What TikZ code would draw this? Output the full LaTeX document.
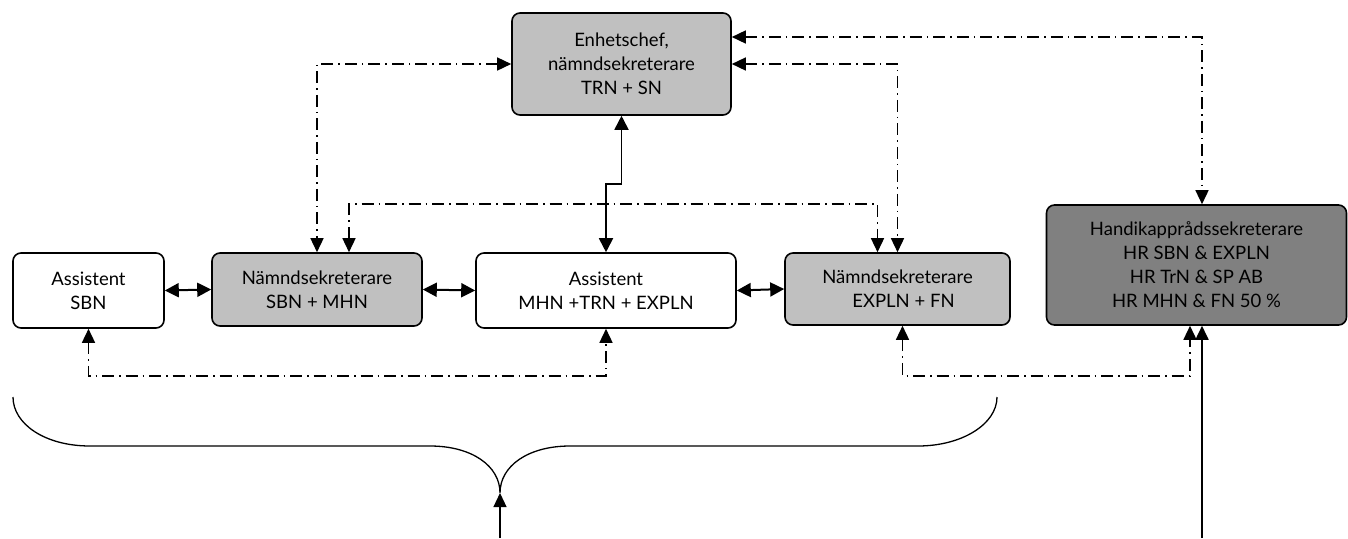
\documentclass[tikz,border=0pt]{standalone}
\usepackage{fontspec}
\setmainfont{Lato}
\usetikzlibrary{arrows.meta}
\definecolor{lightbox}{HTML}{C0C0C0}
\definecolor{darkbox}{HTML}{808080}
\tikzset{
  box/.style={draw=black, line width=1.6pt, rounded corners=8pt, align=center,
    font=\fontsize{18.5}{24}\selectfont, inner sep=0pt},
  tip/.style={-{Triangle[length=14pt,width=13pt]}},
  biarrow/.style={{Triangle[length=14pt,width=14pt]}-{Triangle[length=14pt,width=14pt]}, line width=2pt},
  dd/.style={{Triangle[length=14pt,width=13pt]}-{Triangle[length=14pt,width=13pt]}, line width=1.5pt,
    dash pattern=on 12pt off 5pt on 1.5pt off 5pt},
  solidline/.style={line width=1.8pt},
}
\begin{document}
\begin{tikzpicture}[x=1pt,y=-1pt]
\useasboundingbox (0,0) rectangle (1348,538);
\node[box, fill=lightbox, minimum width=219pt, minimum height=102pt] (E) at (621.5,64) {Enhetschef,\\nämndsekreterare\\TRN + SN};
\node[box, fill=white, minimum width=151pt, minimum height=75pt] (A1) at (88.5,290.5) {Assistent\\SBN};
\node[box, fill=lightbox, minimum width=210pt, minimum height=73pt] (N1) at (317,289.5) {Nämndsekreterare\\SBN + MHN};
\node[box, fill=white, minimum width=260pt, minimum height=75pt] (A2) at (606,290.5) {Assistent\\MHN +TRN + EXPLN};
\node[box, fill=lightbox, minimum width=225pt, minimum height=72pt] (N2) at (897.5,289) {Nämndsekreterare\\\hspace*{12pt}EXPLN + FN};
\node[box, fill=darkbox, minimum width=300pt, minimum height=120pt] (H) at (1196.5,265) {Handikapprådssekreterare\\HR SBN \& EXPLN\\HR TrN \& SP AB\\HR MHN \& FN 50 \%};

% solid links
\draw[biarrow] (A1.east) -- (N1.west);
\draw[biarrow] (N1.east) -- (A2.west);
\draw[biarrow] (A2.east) -- (N2.west);
\draw[biarrow, line width=1.8pt] (E.south) -- ++(0,68) -| (A2.north);

% dash-dot links
\draw[dd] (E.west) -| (N1.north);
\draw[dd] ([xshift=32pt]N1.north) -- ++(0,-48) -| ([xshift=-20pt]N2.north);
\draw[dd] (E.east) -| (N2.north);
\draw[dd] ([yshift=27pt]E.east) -| ([xshift=5.5pt]H.north);
\draw[dd] (A1.south) -- ++(0,47) -| (A2.south);
\draw[dd] ([xshift=5pt]N2.south) -- ++(0,50) -| ([xshift=-6.5pt]H.south);

% incoming lines from below
\coordinate (hb) at (1202,538);
\draw[solidline, tip] (hb) -- ([xshift=5.5pt]H.south);
\coordinate (bt) at (500,493);
\coordinate (bb) at (500,538);
\draw[line width=1.2pt, tip] (bb) -- (bt);

% brace
\draw[line width=1.3pt] (13,397) .. controls (13,424) and (45,446) .. (90,446)
  -- (430,446) .. controls (472,446) and (500,466) .. (bt)
  .. controls (500,466) and (528,446) .. (570,446)
  -- (918,446) .. controls (962,446) and (997,424) .. (997,397);
\end{tikzpicture}
\end{document}
